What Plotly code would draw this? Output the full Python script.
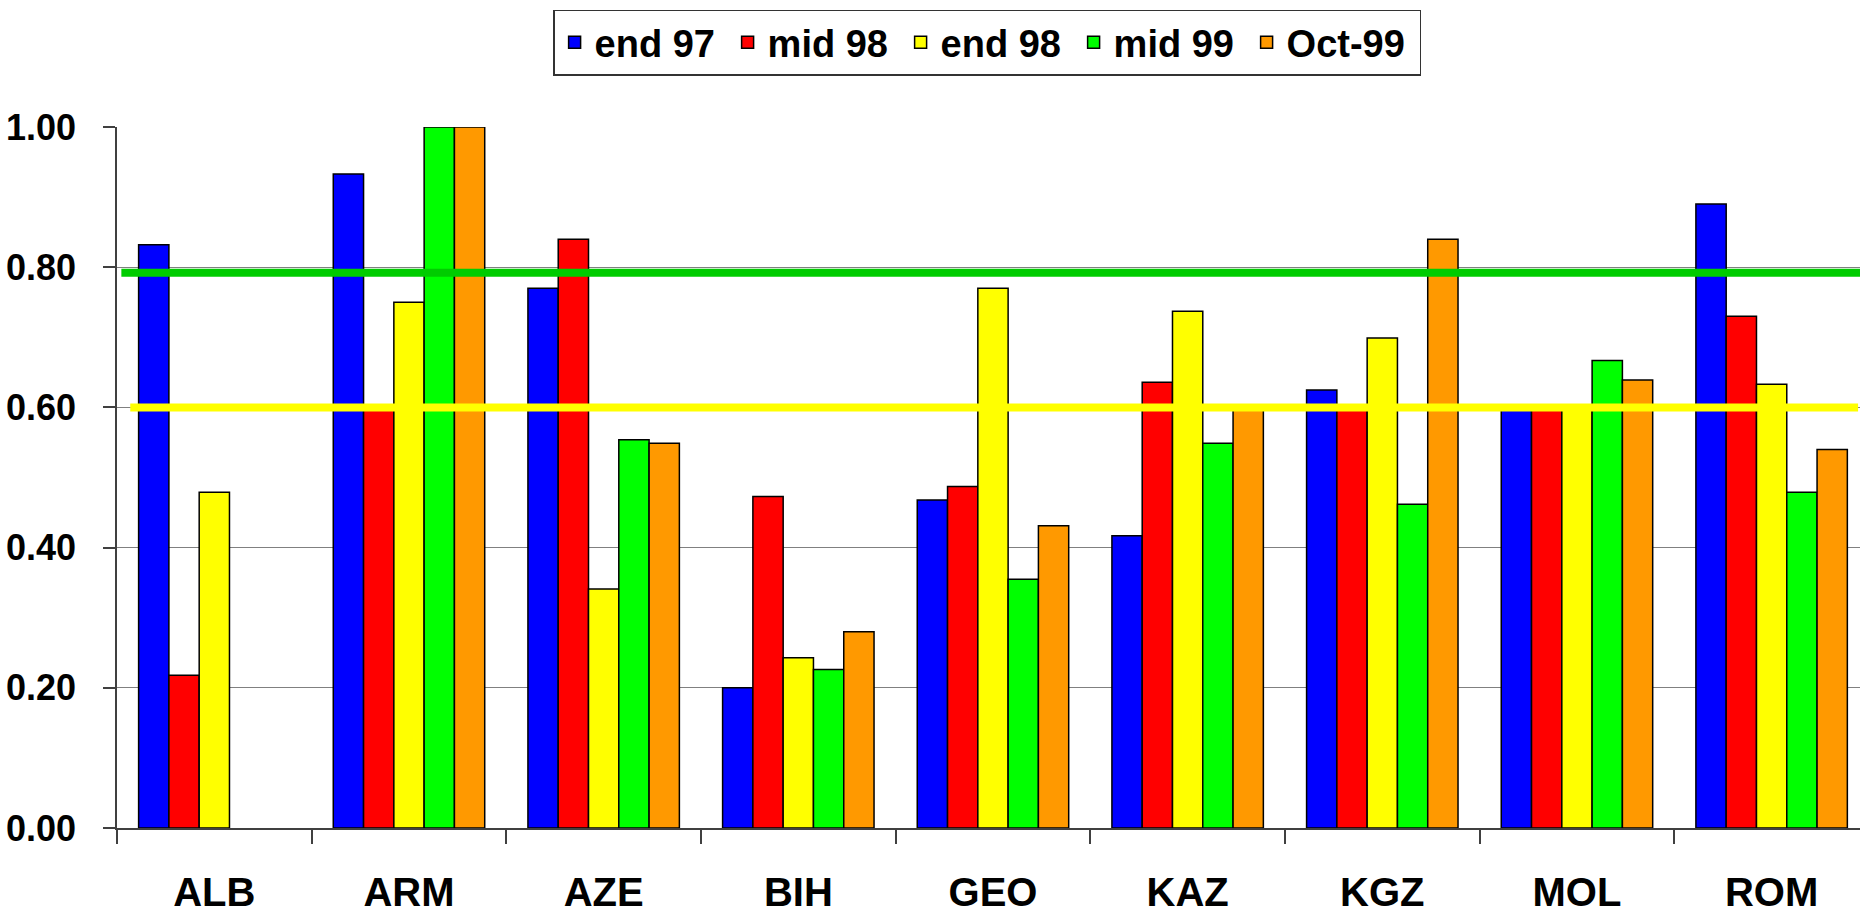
import plotly.graph_objects as go

categories = ["ALB", "ARM", "AZE", "BIH", "GEO", "KAZ", "KGZ", "MOL", "ROM"]
series_names = ["end 97", "mid 98", "end 98", "mid 99", "Oct-99"]
end97 = [0.832, 0.933, 0.770, 0.200, 0.468, 0.417, 0.625, 0.600, 0.890]
mid98 = [0.218, 0.600, 0.840, 0.473, 0.487, 0.636, 0.600, 0.600, 0.730]
end98 = [0.479, 0.750, 0.341, 0.243, 0.770, 0.737, 0.699, 0.600, 0.633]
mid99 = [None, 1.000, 0.554, 0.226, 0.355, 0.549, 0.462, 0.667, 0.479]
oct99 = [None, 1.000, 0.549, 0.280, 0.431, 0.600, 0.840, 0.639, 0.540]
green_level = 0.792
yellow_level = 0.600
y_ticks = [0.0, 0.2, 0.4, 0.6, 0.8, 1.0]

colors = ["#0000FF", "#FF0000", "#FFFF00", "#00FF00", "#FF9900"]
FONT = "Liberation Sans, Arial, sans-serif"

fig = go.Figure()
for name, vals, col in zip(series_names, [end97, mid98, end98, mid99, oct99], colors):
    fig.add_trace(go.Bar(
        x=categories, y=vals, name=name,
        marker=dict(color=col, line=dict(color="black", width=1.5)),
    ))

fig.add_shape(type="line", xref="paper", yref="y", x0=0.0025, x1=1.0,
              y0=green_level, y1=green_level,
              line=dict(color="#00CC00", width=8), layer="above")
fig.add_shape(type="line", xref="paper", yref="y", x0=0.0076, x1=0.9989,
              y0=yellow_level, y1=yellow_level,
              line=dict(color="#FFFF00", width=8), layer="above")

fig.update_layout(
    width=1860, height=915,
    margin=dict(l=117, r=0, t=127, b=87, pad=0),
    paper_bgcolor="white", plot_bgcolor="white",
    barmode="group", bargap=0.222, bargroupgap=0,
    showlegend=True,
    legend=dict(
        orientation="h", x=0.4992, xanchor="center", y=1.1676, yanchor="top",
        font=dict(family=FONT, size=38, color="black", weight="bold"),
        bordercolor="#333333", borderwidth=1.5, bgcolor="white",
        entrywidth=128, entrywidthmode="pixels",
        itemclick=False,
    ),
    xaxis=dict(
        type="category", range=[-0.5, 8.454],
        showline=True, linecolor="#404040", linewidth=1.5,
        ticks="outside", ticklen=14, tickcolor="#404040", tickwidth=1.5,
        tickson="boundaries", showgrid=False,
        tickfont=dict(family=FONT, size=40, color="black", weight="bold"),
        ticklabelstandoff=28,
    ),
    yaxis=dict(
        range=[0, 1.0], tickvals=y_ticks, tickformat=".2f",
        showline=True, linecolor="#404040", linewidth=1.5,
        ticks="outside", ticklen=12, tickcolor="#404040", tickwidth=1.5,
        showgrid=True, gridcolor="#808080", gridwidth=1,
        zeroline=False,
        tickfont=dict(family=FONT, size=36, color="black", weight="bold"),
        ticklabelstandoff=20,
    ),
)

fig.write_html("out.html", config={"displayModeBar": False},
               post_script="document.body.style.margin='0';")
